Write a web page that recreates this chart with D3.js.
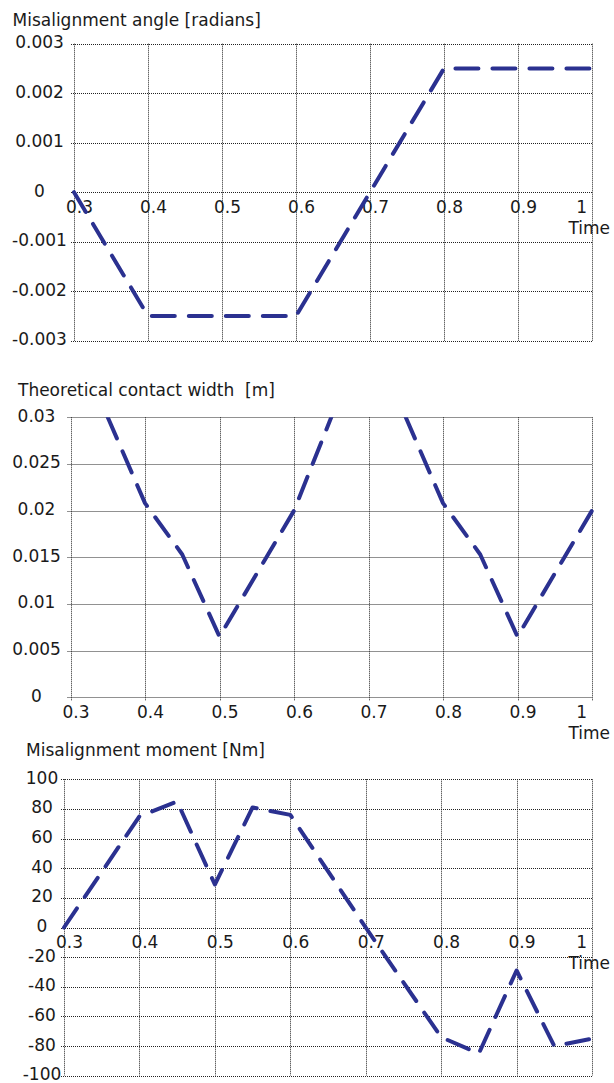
<!DOCTYPE html>
<html>
<head>
<meta charset="utf-8">
<script src="https://cdn.jsdelivr.net/npm/d3@7"></script>
<style>
  html, body { margin: 0; padding: 0; background: #fff; }
  svg { display: block; }
  text { font-family: "DejaVu Sans", Verdana, sans-serif; fill: #1a1a1a; }
</style>
</head>
<body>
<svg id="chart" width="614" height="1083"></svg>
<script>
// ---- Data ----
const timeTicks = [0.3, 0.4, 0.5, 0.6, 0.7, 0.8, 0.9, 1.0];
const timeTickLabels = ["0.3", "0.4", "0.5", "0.6", "0.7", "0.8", "0.9", "1"];

// Chart 1: Misalignment angle [radians]
const angleTitle = "Misalignment angle [radians]";
const angleTimes = [0.3, 0.4, 0.6, 0.8, 1.0];
const angleValues = [0, -0.0025, -0.0025, 0.0025, 0.0025];
const angleTicks = [-0.003, -0.002, -0.001, 0, 0.001, 0.002, 0.003];
const angleTickLabels = ["-0.003", "-0.002", "-0.001", "0", "0.001", "0.002", "0.003"];

// Chart 2: Theoretical contact width [m] (null = off the top of the chart)
const widthTitle = "Theoretical contact width  [m]";
const widthTimes = [0.3, 0.35, 0.4, 0.45, 0.5, 0.6, 0.65, 0.7, 0.75, 0.8, 0.85, 0.9, 1.0];
const widthValues = [null, 0.0300, 0.0208, 0.0153, 0.0065, 0.0200, 0.0300, null, 0.0300, 0.0208, 0.0153, 0.0065, 0.0200];
const widthTicks = [0, 0.005, 0.01, 0.015, 0.02, 0.025, 0.03];
const widthTickLabels = ["0", "0.005", "0.01", "0.015", "0.02", "0.025", "0.03"];

// Chart 3: Misalignment moment [Nm]
const momentTitle = "Misalignment moment [Nm]";
const momentTimes = [0.3, 0.4, 0.45, 0.5, 0.55, 0.6, 0.7, 0.8, 0.85, 0.9, 0.95, 1.0];
const momentValues = [0, 75, 85, 29, 81, 76, 0, -74, -85, -29, -80, -75];
const momentTicks = [-100, -80, -60, -40, -20, 0, 20, 40, 60, 80, 100];
const momentTickLabels = ["-100", "-80", "-60", "-40", "-20", "0", "20", "40", "60", "80", "100"];

// ---- Drawing ----
const svg = d3.select("#chart");
const LINE_COLOR = "#2b3190";
const GRID_COLOR = "#222";

function drawChart(cfg, idx) {
  const g = svg.append("g");
  const x = d3.scaleLinear().domain([0.3, 1.0]).range([cfg.left, cfg.right]);
  const y = d3.scaleLinear().domain(cfg.yDomain).range([cfg.bottom, cfg.top]);
  const px = v => Math.round(v) + 0.5;

  // horizontal gridlines (with small outward ticks on the left)
  g.selectAll(".hg").data(cfg.yTicks).enter().append("line")
    .attr("x1", cfg.left - 3).attr("x2", cfg.right)
    .attr("y1", d => px(y(d))).attr("y2", d => px(y(d)))
    .attr("stroke", GRID_COLOR).attr("stroke-width", 1).attr("stroke-dasharray", "1,1");

  // vertical gridlines
  g.selectAll(".vg").data(timeTicks).enter().append("line")
    .attr("x1", d => px(x(d))).attr("x2", d => px(x(d)))
    .attr("y1", cfg.top).attr("y2", cfg.bottom + (cfg.labelsAtBottom ? 3 : 0))
    .attr("stroke", GRID_COLOR).attr("stroke-width", 1).attr("stroke-dasharray", "1,1");

  // y tick labels (centered in the left margin)
  g.selectAll(".yl").data(cfg.yTicks).enter().append("text")
    .attr("x", cfg.yLabelX).attr("y", d => y(d) + 4.5)
    .attr("text-anchor", "middle").attr("font-size", 17)
    .text((d, i) => cfg.yTickLabels[i]);

  // x tick labels
  const xBase = cfg.labelsAtBottom ? cfg.bottom : y(0);
  g.selectAll(".xl").data(timeTicks).enter().append("text")
    .attr("x", (d, i) => i === timeTicks.length - 1 ? x(d) - 5 : x(d) + 5.5)
    .attr("y", xBase + 20.5)
    .attr("text-anchor", (d, i) => i === timeTicks.length - 1 ? "end" : "middle")
    .attr("font-size", 17)
    .text((d, i) => timeTickLabels[i]);

  // axis title "Time"
  g.append("text").attr("x", 610).attr("y", xBase + 41.5)
    .attr("text-anchor", "end").attr("font-size", 17).text("Time");

  // chart title
  g.append("text").attr("x", cfg.titleX).attr("y", cfg.titleY)
    .attr("font-size", 17).style("white-space", "pre").text(cfg.title);

  // clip
  const clipId = "clip" + idx;
  svg.append("clipPath").attr("id", clipId).append("rect")
    .attr("x", cfg.left - 4).attr("y", cfg.top)
    .attr("width", cfg.right - cfg.left + 8).attr("height", cfg.bottom - cfg.top);

  const pts = cfg.times.map((t, i) => [t, cfg.values[i]]);
  const line = d3.line()
    .defined(d => d[1] !== null)
    .x(d => x(d[0])).y(d => y(d[1]));

  g.append("path").datum(pts)
    .attr("clip-path", "url(#" + clipId + ")")
    .attr("d", line)
    .attr("fill", "none")
    .attr("stroke", LINE_COLOR)
    .attr("stroke-width", 4)
    .attr("stroke-linecap", "round")
    .attr("stroke-linejoin", "round")
    .attr("stroke-dasharray", "23,14");
}

drawChart({
  title: angleTitle, titleX: 12.5, titleY: 25.5,
  left: 74, right: 592, top: 43.7, bottom: 340.7,
  yDomain: [-0.003, 0.003], yTicks: angleTicks, yTickLabels: angleTickLabels,
  yLabelX: 39.5, labelsAtBottom: false,
  times: angleTimes, values: angleValues
}, 1);

drawChart({
  title: widthTitle, titleX: 18, titleY: 395.7,
  left: 70.5, right: 592, top: 417.3, bottom: 697.3,
  yDomain: [0, 0.03], yTicks: widthTicks, yTickLabels: widthTickLabels,
  yLabelX: 36.5, labelsAtBottom: true,
  times: widthTimes, values: widthValues
}, 2);

drawChart({
  title: momentTitle, titleX: 26, titleY: 755.7,
  left: 64, right: 592, top: 779.3, bottom: 1075.7,
  yDomain: [-100, 100], yTicks: momentTicks, yTickLabels: momentTickLabels,
  yLabelX: 42, labelsAtBottom: false,
  times: momentTimes, values: momentValues
}, 3);
</script>
</body>
</html>
